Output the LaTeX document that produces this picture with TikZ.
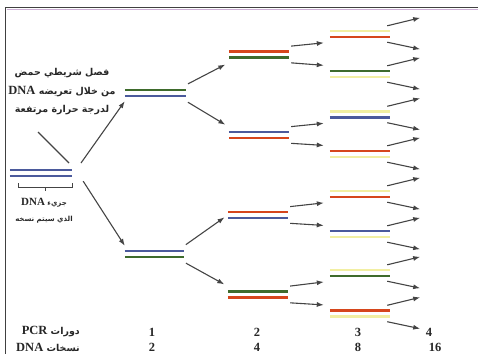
\documentclass[tikz,border=0pt]{standalone}
\usepackage{fontspec}
\setmainfont{Liberation Serif}
\newfontfamily\arabicfont[Script=Arabic]{DejaVu Sans}
\TeXXeTstate=1
\usetikzlibrary{arrows.meta}
\definecolor{strandblue}{HTML}{4B5A9C}
\definecolor{strandgreen}{HTML}{3E6B2C}
\definecolor{strandorange}{HTML}{D6461C}
\definecolor{strandyellow}{HTML}{F2EFA2}
\definecolor{arrowgray}{HTML}{444444}
\definecolor{framepurple}{HTML}{CDB0D6}
\tikzset{
  pair/.style={minimum width=60pt, minimum height=16pt, inner sep=0pt},
  strand/.style={line width=2.5pt},
  copyarrow/.style={draw=arrowgray, line width=1.1pt, -{Latex[length=7pt,width=5pt]},
    shorten <=2pt, shorten >=4pt},
  cyclenum/.style={inner sep=0pt, text=black!85, font=\bfseries\fontsize{12.5}{14}\selectfont},
  arnote/.style={align=center, inner sep=0pt, text=black!85,
    font=\arabicfont\bfseries\fontsize{9.5}{18.5}\selectfont}
}
% two strands of one DNA molecule
\newcommand{\strands}[3]{%
  \draw[strand,#2] ([yshift=3.2pt]#1.west) -- ([yshift=3.2pt]#1.east);
  \draw[strand,#3] ([yshift=-3.2pt]#1.west) -- ([yshift=-3.2pt]#1.east);
}
\newcommand{\dna}[1][12.5]{{\rmfamily\bfseries\fontsize{#1}{14}\selectfont DNA}}
\newcommand{\pcr}{{\rmfamily\bfseries\fontsize{12.5}{14}\selectfont PCR}}
\begin{document}
\begin{tikzpicture}[x=1pt,y=-1pt]
  \useasboundingbox (0,0) rectangle (478,354);
  % frame
  \draw[line width=1.6pt, black!75] (5,7.5) -- (478,7.5);
  \draw[line width=1.6pt, black!75] (5.5,7) -- (5.5,354);
  \draw[line width=1pt, framepurple] (6.5,9.8) -- (478,9.8);

  % original molecule
  \node[pair, minimum width=62pt] (g0) at (41,173) {};
  \strands{g0}{strandblue}{strandblue}
  \draw[arrowgray, line width=0.9pt] (18,183) -- (18,187) -- (72,187) -- (72,183)
    (45,187) -- (45,191);
  \node[arnote, font=\arabicfont\bfseries\fontsize{7}{16}\selectfont] (orig) at (44,211)
    {\beginR جزيء \beginL\dna[11]\endL\endR\\ \beginR الذي سيتم نسخه\endR};
  \node[arnote] (heat) at (62,92) {\beginR فصل شريطي حمض\endR\\
    \beginR من خلال تعريضه \beginL\dna\endL\endR\\
    \beginR لدرجة حرارة مرتفعة\endR};

  % cycle 1
  \node[pair, minimum width=61pt] (g1a) at (155.5,93) {};
  \node[pair, minimum width=59pt] (g1b) at (154.5,254) {};
  \strands{g1a}{strandgreen}{strandblue}
  \strands{g1b}{strandblue}{strandgreen}
  \coordinate (vtop) at (38,132);
  \coordinate (vl) at (69,163);
  \coordinate (vr) at (81,163);
  \draw[arrowgray, line width=1.1pt] (vtop) -- (vl);
  \draw[copyarrow, shorten <=0pt, shorten >=0pt] (vr) -- (g1a.south west);
  \draw[copyarrow, shorten <=0pt, shorten >=0pt] ([xshift=11pt]g0.south east) -- (g1b.north west);

  % cycle 2
  \node[pair] (g2a) at (259,54.5) {};
  \node[pair] (g2b) at (259,135) {};
  \node[pair] (g2c) at (258,215) {};
  \node[pair] (g2d) at (258,294.5) {};
  \strands{g2a}{strandorange}{strandgreen}
  \strands{g2b}{strandblue}{strandorange}
  \strands{g2c}{strandorange}{strandblue}
  \strands{g2d}{strandgreen}{strandorange}
  \draw[copyarrow] (g1a.north east) -- (g2a.south west);
  \draw[copyarrow] (g1a.south east) -- (g2b.north west);
  \draw[copyarrow] (g1b.north east) -- (g2c.west);
  \draw[copyarrow] (g1b.south east) -- (g2d.north west);

  % cycle 3
  \foreach \n/\y/\ct/\cb in {1/34/strandyellow/strandorange,
      2/74/strandgreen/strandyellow, 3/114.5/strandyellow/strandblue,
      4/154/strandorange/strandyellow, 5/194/strandyellow/strandorange,
      6/234/strandblue/strandyellow, 7/273/strandyellow/strandgreen,
      8/313.5/strandorange/strandyellow} {
    \node[pair] (g3\n) at (360,\y) {};
    \strands{g3\n}{\ct}{\cb}
    \coordinate (up\n) at ([xshift=30pt,yshift=8pt]g3\n.north east);
    \coordinate (dn\n) at ([xshift=30pt,yshift=-7pt]g3\n.south east);
    \draw[copyarrow, shorten <=0pt, shorten >=0pt] ([xshift=-3pt]g3\n.north east) -- (up\n);
    \draw[copyarrow, shorten <=0pt, shorten >=0pt] ([xshift=-3pt]g3\n.south east) -- (dn\n);
  }
  \draw[copyarrow, shorten >=6pt] (g2a.north east) -- (g31.south west);
  \draw[copyarrow, shorten >=6pt] (g2a.south east) -- (g32.north west);
  \draw[copyarrow, shorten >=6pt] (g2b.north east) -- (g33.south west);
  \draw[copyarrow, shorten >=6pt] (g2b.south east) -- (g34.north west);
  \draw[copyarrow, shorten >=6pt] (g2c.north east) -- (g35.south west);
  \draw[copyarrow, shorten >=6pt] (g2c.south east) -- (g36.north west);
  \draw[copyarrow, shorten >=6pt] (g2d.north east) -- (g37.south west);
  \draw[copyarrow, shorten >=6pt] (g2d.south east) -- (g38.north west);

  % counts
  \node[arnote, anchor=east] (cyc) at (80,332) {\beginR دورات \beginL\pcr\endL\endR};
  \node[arnote, anchor=east] (cop) at (80,347) {\beginR نسخات \beginL\dna\endL\endR};
  \node[cyclenum] (c1) at (152,332) {1};
  \node[cyclenum] (c2) at (257,332) {2};
  \node[cyclenum] (c3) at (358,332) {3};
  \node[cyclenum] (c4) at (429,332) {4};
  \node[cyclenum] (n1) at (152,347) {2};
  \node[cyclenum] (n2) at (257,347) {4};
  \node[cyclenum] (n3) at (358,347) {8};
  \node[cyclenum] (n4) at (435,347) {16};
\end{tikzpicture}
\end{document}
